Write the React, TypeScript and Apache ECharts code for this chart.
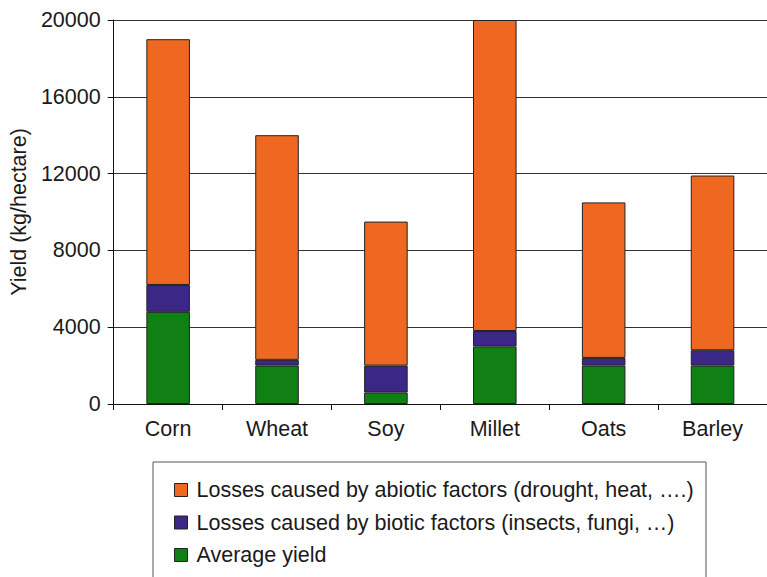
import React, { useEffect, useRef } from "react";
import * as echarts from "echarts";

const categories = ["Corn", "Wheat", "Soy", "Millet", "Oats", "Barley"];
const averageYield = [4800, 2000, 600, 3000, 2000, 2000];
const bioticLosses = [1400, 300, 1400, 800, 400, 800];
const abioticLosses = [12800, 11700, 7500, 16200, 8100, 9100];
const yTicks = { min: 0, max: 20000, interval: 4000 };

const NAME_ABIOTIC = "Losses caused by abiotic factors (drought, heat, \u2026.)";
const NAME_BIOTIC = "Losses caused by biotic factors (insects, fungi, \u2026)";
const NAME_YIELD = "Average yield";

const FONT = "'Liberation Sans', Arial, Helvetica, sans-serif";
const TEXT = "#1a1a1a";
const FS = 21.5;

export default function App() {
  const ref = useRef<HTMLDivElement>(null);
  useEffect(() => {
    if (!ref.current) return;
    const chart = echarts.init(ref.current, null, { renderer: "svg" });
    const border = { borderColor: "#222", borderWidth: 1 };
    chart.setOption({
      animation: false,
      backgroundColor: "#fff",
      textStyle: { fontFamily: FONT },
      grid: { left: 111, top: 20, width: 660, height: 384, containLabel: false },
      xAxis: {
        type: "category",
        data: categories,
        boundaryGap: true,
        axisLine: { lineStyle: { color: "#111", width: 1 } },
        axisTick: { show: true, length: 6, alignWithLabel: false, lineStyle: { color: "#111" } },
        axisLabel: { color: TEXT, fontSize: FS, margin: 14, fontFamily: FONT },
      },
      yAxis: {
        type: "value",
        min: yTicks.min,
        max: yTicks.max,
        interval: yTicks.interval,
        name: "Yield (kg/hectare)",
        nameLocation: "middle",
        nameGap: 80,
        nameTextStyle: { color: TEXT, fontSize: FS, fontFamily: FONT },
        axisLine: { show: true, lineStyle: { color: "#111", width: 1 } },
        axisTick: { show: true, length: 6, lineStyle: { color: "#111" } },
        axisLabel: {
          color: TEXT,
          fontSize: FS,
          margin: 13,
          fontFamily: FONT,
          formatter: (v: number) => String(v),
        },
        splitLine: { show: true, lineStyle: { color: "#333", width: 1 } },
      },
      legend: {
        orient: "vertical",
        left: 174,
        top: 479,
        padding: 0,
        itemWidth: 13,
        itemHeight: 13,
        itemGap: 10.5,
        icon: "rect",
        data: [NAME_ABIOTIC, NAME_BIOTIC, NAME_YIELD],
        textStyle: { color: TEXT, fontSize: FS, fontFamily: FONT, padding: [0, 0, 0, 4] },
        itemStyle: { borderColor: "#222", borderWidth: 1 },
      },
      graphic: [
        {
          type: "rect",
          shape: { x: 153, y: 462, width: 553, height: 140 },
          style: { fill: "none", stroke: "#555", lineWidth: 1 },
          silent: true,
        },
      ],
      series: [
        {
          name: NAME_YIELD,
          type: "bar",
          stack: "total",
          barWidth: "40%",
          data: averageYield,
          itemStyle: { color: "#108015", ...border },
        },
        {
          name: NAME_BIOTIC,
          type: "bar",
          stack: "total",
          barWidth: "40%",
          data: bioticLosses,
          itemStyle: { color: "#3b2886", ...border },
        },
        {
          name: NAME_ABIOTIC,
          type: "bar",
          stack: "total",
          barWidth: "40%",
          data: abioticLosses,
          itemStyle: { color: "#ef6822", ...border },
        },
      ],
    });
    return () => chart.dispose();
  }, []);
  return (
    <div
      ref={ref}
      style={{ position: "fixed", left: 0, top: 0, width: 767, height: 577, background: "#fff" }}
    />
  );
}
